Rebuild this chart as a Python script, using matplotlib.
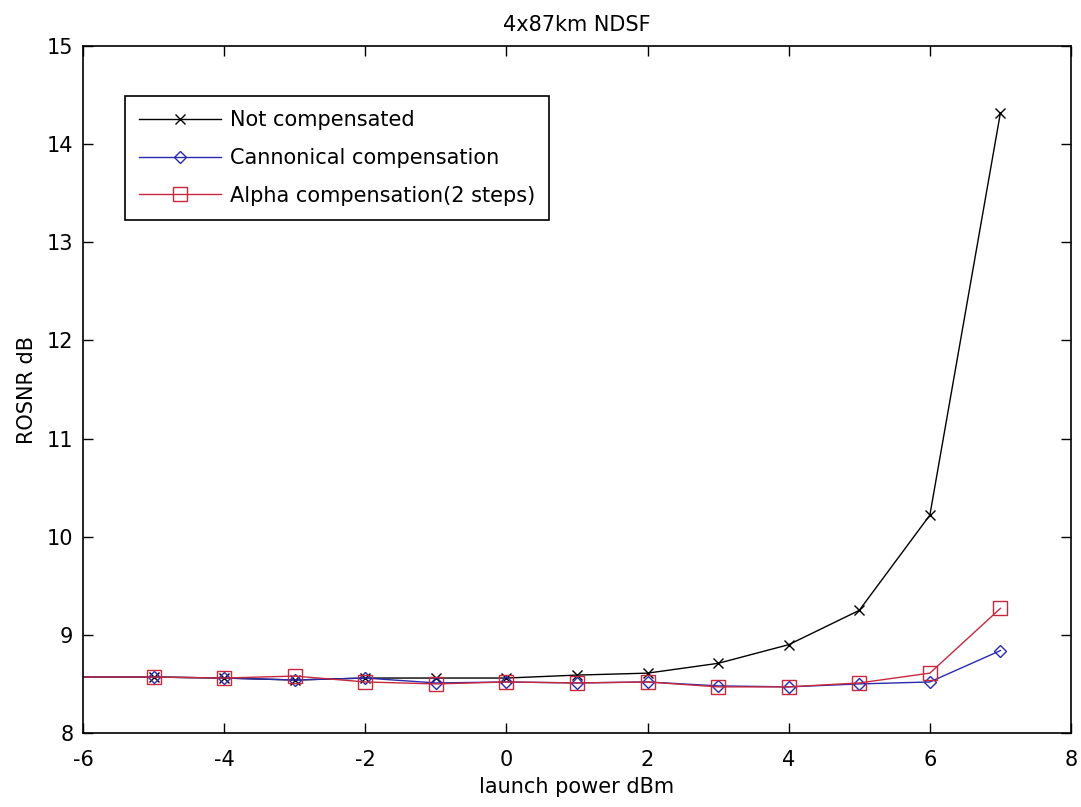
import matplotlib
matplotlib.use("Agg")
import matplotlib.pyplot as plt

launch_power = [-6, -5, -4, -3, -2, -1, 0, 1, 2, 3, 4, 5, 6, 7]
not_compensated = [8.57, 8.57, 8.56, 8.54, 8.56, 8.56, 8.56, 8.59, 8.61, 8.71, 8.90, 9.25, 10.22, 14.32]
cannonical = [8.57, 8.57, 8.56, 8.54, 8.56, 8.51, 8.52, 8.51, 8.52, 8.48, 8.47, 8.50, 8.52, 8.84]
alpha_2steps = [8.57, 8.57, 8.56, 8.58, 8.52, 8.50, 8.52, 8.51, 8.52, 8.47, 8.47, 8.51, 8.61, 9.27]
labels = ["Not compensated", "Cannonical compensation", "Alpha compensation(2 steps)"]
xticks = [-6, -4, -2, 0, 2, 4, 6, 8]
yticks = [8, 9, 10, 11, 12, 13, 14, 15]

plt.rcParams['font.family'] = ['DejaVu Sans']
plt.rcParams['axes.unicode_minus'] = False
fig = plt.figure(figsize=(10.81, 8.07), dpi=100)
ax = fig.add_axes([83/1081, 1 - 733/807, (1071-83)/1081, (733-46)/807])

mk = slice(1, None)
ax.plot(launch_power, not_compensated, color='black', lw=1.0, marker='x',
        ms=7, mew=1.0, markevery=mk, label=labels[0])
ax.plot(launch_power, cannonical, color='#2a2ab0', lw=1.0, marker='D',
        ms=6.5, mfc='none', mew=1.0, markevery=mk, label=labels[1])
ax.plot(launch_power, alpha_2steps, color='#c8283c', lw=1.0, marker='s',
        ms=9.5, mfc='none', mew=1.0, markevery=mk, label=labels[2])

ax.set_xlim(-6, 8)
ax.set_ylim(8, 15)
ax.set_xticks(xticks)
ax.set_yticks(yticks)
ax.tick_params(direction='in', top=True, right=True, length=7, width=1,
               labelsize=15, pad=12)
ax.tick_params(axis='y', pad=7)
for s in ax.spines.values():
    s.set_linewidth(1.2)

ax.set_title("4x87km NDSF", fontsize=15, pad=11)
ax.set_xlabel("launch power dBm", fontsize=15, labelpad=5)
ax.set_ylabel("ROSNR dB", fontsize=15, labelpad=7)

leg = ax.legend(loc='upper left', bbox_to_anchor=(42/988, (733-96)/687),
                borderaxespad=0, fontsize=15, handlelength=3.95,
                handletextpad=0.4, labelspacing=0.85, borderpad=0.68,
                fancybox=False, framealpha=1, edgecolor='black')
leg.get_frame().set_linewidth(1.2)

fig.savefig("out.png", dpi=100)
